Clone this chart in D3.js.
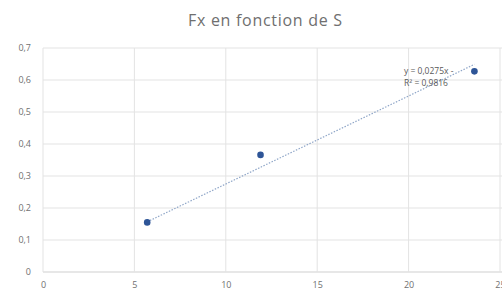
<!DOCTYPE html>
<html>
<head>
<meta charset="utf-8">
<script src="https://cdn.jsdelivr.net/npm/d3@7"></script>
<style>
	body { margin: 0; background: #fff; }
	svg { display: block; font-family: "Open Sans", "Liberation Sans", sans-serif; }
</style>
</head>
<body>
<svg id="chart" width="502" height="297"></svg>
<script>
// data
const sValues  = [5.7, 11.9, 23.6]
const fxValues = [0.155, 0.366, 0.627]
const xTicks   = [0, 5, 10, 15, 20, 25]
const yTicks   = [0, 0.1, 0.2, 0.3, 0.4, 0.5, 0.6, 0.7]
const trendSlope     = 0.0275
const trendIntercept = 0.0
const trendLabels    = ["y = 0,0275x -", "R² = 0,9816"]

const svg = d3.select("#chart")
const W = 502, H = 297
const margin = {left: 43, right: 2, top: 48, bottom: 25}

const x = d3.scaleLinear().domain([0, 25]).range([margin.left, 500])
const y = d3.scaleLinear().domain([0, 0.7]).range([H - margin.bottom, margin.top])

const fmt = d => d3.format("")(+d.toFixed(1)).replace(".", ",")

// title
svg.append("text")
	.attr("x", 265).attr("y", 26)
	.attr("text-anchor", "middle")
	.attr("textLength", 154)
	.style("font-size", "16px")
	.style("fill", "#6f6f6f")
	.text("Fx en fonction de S")

// grid lines
svg.append("g")
	.selectAll("line.h")
	.data(yTicks)
	.join("line")
	.attr("x1", x(0)).attr("x2", W)
	.attr("y1", d => y(d)).attr("y2", d => y(d))
	.attr("stroke", d => d === 0 ? "#cfcfcf" : "#e3e3e3")
	.attr("stroke-width", 1)

svg.append("g")
	.selectAll("line.v")
	.data(xTicks)
	.join("line")
	.attr("x1", d => x(d)).attr("x2", d => x(d))
	.attr("y1", y(0.7)).attr("y2", y(0))
	.attr("stroke", "#e3e3e3")
	.attr("stroke-width", 1)

// axes (labels only, lines are the grid)
const xAxis = d3.axisBottom(x).tickValues(xTicks).tickSize(0).tickPadding(10).tickFormat(d => d)
const xAxisGroup = svg.append("g")
	.attr("transform", "translate(0," + y(0) + ")")
	.call(xAxis)
xAxisGroup.select(".domain").remove()
xAxisGroup.selectAll("text")
	.style("font-size", "9px")
	.style("fill", "#707070")
	.style("font-family", "'Open Sans', 'Liberation Sans', sans-serif")

const yAxis = d3.axisLeft(y).tickValues(yTicks).tickSize(0).tickPadding(12).tickFormat(fmt)
const yAxisGroup = svg.append("g")
	.attr("transform", "translate(" + x(0) + ",0)")
	.call(yAxis)
yAxisGroup.select(".domain").remove()
yAxisGroup.selectAll("text")
	.style("font-size", "9px")
	.style("fill", "#707070")
	.style("font-family", "'Open Sans', 'Liberation Sans', sans-serif")

// trendline
const xMin = d3.min(sValues), xMax = d3.max(sValues)
svg.append("line")
	.attr("x1", x(xMin)).attr("y1", y(trendSlope * xMin + trendIntercept))
	.attr("x2", x(xMax)).attr("y2", y(trendSlope * xMax + trendIntercept))
	.attr("stroke", "#8fa6c8")
	.attr("stroke-width", 1.2)
	.attr("stroke-dasharray", "1.5,1.5")

// trendline label
svg.append("g")
	.selectAll("text")
	.data(trendLabels)
	.join("text")
	.attr("x", 404).attr("y", (d, i) => 74 + i * 12)
	.style("font-size", "8.5px")
	.style("fill", "#595959")
	.text(d => d)

// points
svg.append("g")
	.selectAll("circle")
	.data(sValues.map((s, i) => [s, fxValues[i]]))
	.join("circle")
	.attr("cx", d => x(d[0]))
	.attr("cy", d => y(d[1]))
	.attr("r", 3.3)
	.attr("fill", "#2e5597")
</script>
</body>
</html>
